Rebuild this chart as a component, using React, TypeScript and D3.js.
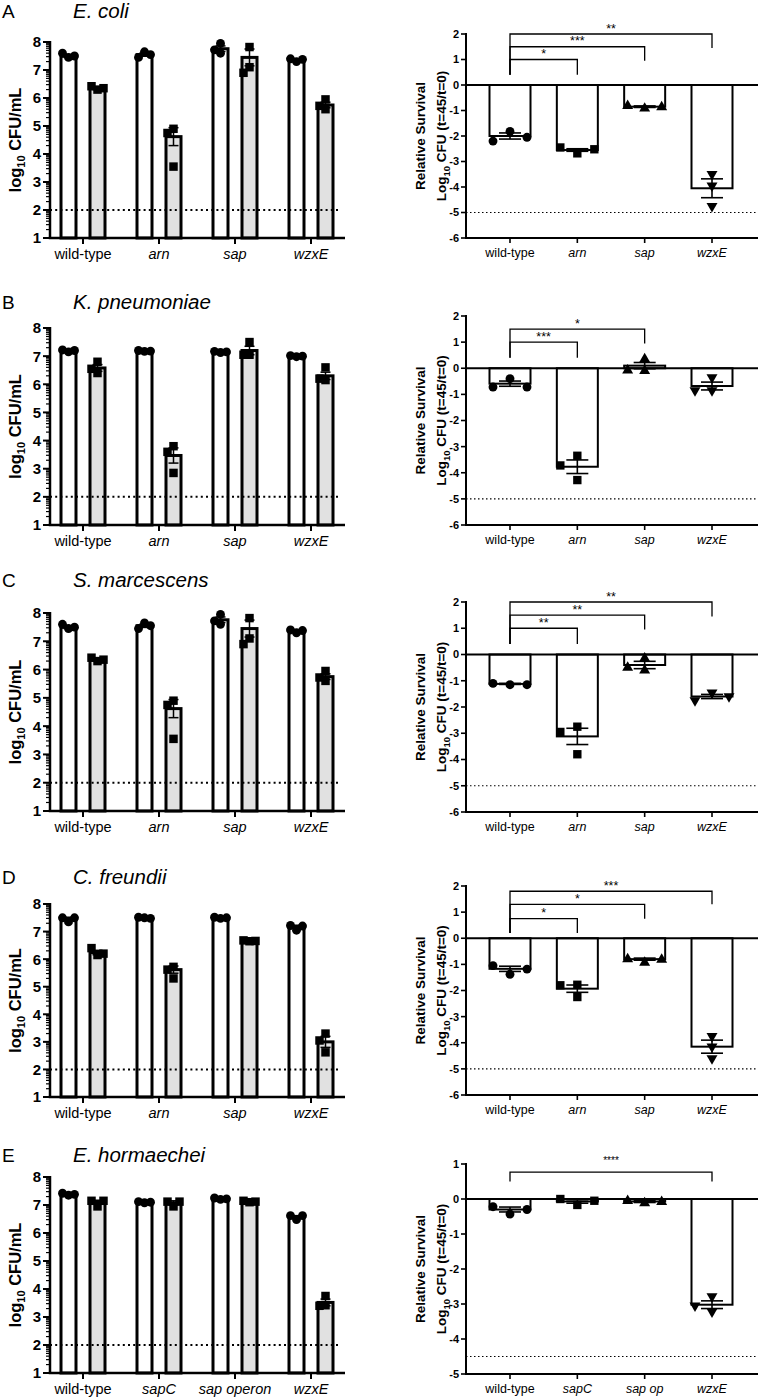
import React from "react";
import * as d3 from "d3";

const FONT = "'Liberation Sans', Arial, Helvetica, sans-serif";

// ---------- labels ----------
const panelLetters = ["A", "B", "C", "D", "E"];
const speciesNames = ["E. coli", "K. pneumoniae", "S. marcescens", "C. freundii", "E. hormaechei"];
const genotypes = ["wild-type", "arn", "sap", "wzxE"];
const genotypesLeftE = ["wild-type", "sapC", "sap operon", "wzxE"];
const genotypesRightE = ["wild-type", "sapC", "sap op", "wzxE"];
const italicGenotype = [false, true, true, true];
const leftTicks = [1, 2, 3, 4, 5, 6, 7, 8];

// ---------- left panels: log10 CFU/mL, t=0 (white) and t=45 (grey) ----------
const aT0Mean = [7.5, 7.55, 7.76, 7.37];
const aT0Sem = [0.05, 0.06, 0.1, 0.03];
const aT0Pts = [[7.45, 7.6, 7.5], [7.65, 7.45, 7.55], [7.95, 7.6, 7.72], [7.3, 7.4, 7.38]];
const aT45Mean = [6.35, 4.62, 7.45, 5.75];
const aT45Sem = [0.05, 0.32, 0.3, 0.1];
const aT45Pts = [[6.3, 6.42, 6.35], [4.9, 4.75, 3.55], [7.82, 7.1, 6.9], [5.95, 5.6, 5.72]];

const bT0Mean = [7.19, 7.18, 7.15, 7.0];
const bT0Sem = [0.02, 0.02, 0.02, 0.02];
const bT0Pts = [[7.15, 7.22, 7.2], [7.17, 7.2, 7.18], [7.13, 7.17, 7.15], [6.98, 7.02, 7.0]];
const bT45Mean = [6.58, 3.47, 7.2, 6.3];
const bT45Sem = [0.12, 0.27, 0.15, 0.13];
const bT45Pts = [[6.8, 6.4, 6.55], [3.8, 3.6, 2.85], [7.5, 7.05, 7.05], [6.6, 6.15, 6.2]];

const cT0Mean = [7.5, 7.55, 7.76, 7.37];
const cT0Sem = [0.05, 0.06, 0.1, 0.03];
const cT0Pts = [[7.45, 7.6, 7.5], [7.65, 7.45, 7.55], [7.95, 7.6, 7.72], [7.3, 7.4, 7.38]];
const cT45Mean = [6.35, 4.62, 7.45, 5.75];
const cT45Sem = [0.05, 0.32, 0.3, 0.1];
const cT45Pts = [[6.3, 6.42, 6.35], [4.9, 4.75, 3.55], [7.82, 7.1, 6.9], [5.95, 5.6, 5.72]];

const dT0Mean = [7.47, 7.5, 7.5, 7.18];
const dT0Sem = [0.05, 0.02, 0.02, 0.05];
const dT0Pts = [[7.35, 7.5, 7.5], [7.5, 7.52, 7.48], [7.48, 7.52, 7.5], [7.05, 7.22, 7.2]];
const dT45Mean = [6.24, 5.62, 6.66, 3.0];
const dT45Sem = [0.08, 0.13, 0.02, 0.2];
const dT45Pts = [[6.15, 6.4, 6.2], [5.72, 5.3, 5.62], [6.65, 6.68, 6.66], [3.3, 2.62, 3.05]];

const eT0Mean = [7.38, 7.1, 7.22, 6.58];
const eT0Sem = [0.03, 0.02, 0.02, 0.04];
const eT0Pts = [[7.35, 7.42, 7.38], [7.08, 7.12, 7.1], [7.2, 7.25, 7.22], [6.48, 6.62, 6.62]];
const eT45Mean = [7.1, 7.08, 7.12, 3.52];
const eT45Sem = [0.07, 0.07, 0.03, 0.12];
const eT45Pts = [[6.95, 7.15, 7.15], [6.95, 7.12, 7.12], [7.1, 7.15, 7.12], [3.75, 3.42, 3.4]];

// ---------- right panels: relative survival ----------
const aRelMean = [-2.0, -2.55, -0.85, -4.05];
const aRelSem = [0.12, 0.05, 0.03, 0.37];
const aRelPts = [[-1.82, -2.2, -2.05], [-2.68, -2.45, -2.52], [-0.92, -0.82, -0.87], [-3.5, -3.95, -4.75]];
const bRelMean = [-0.59, -3.77, 0.1, -0.68];
const bRelSem = [0.1, 0.26, 0.12, 0.15];
const bRelPts = [[-0.4, -0.72, -0.72], [-3.35, -3.72, -4.28], [0.35, -0.1, -0.08], [-0.35, -0.85, -0.85]];
const cRelMean = [-1.12, -3.12, -0.4, -1.6];
const cRelSem = [0.02, 0.31, 0.14, 0.08];
const cRelPts = [[-1.15, -1.1, -1.15], [-2.75, -2.95, -3.8], [-0.15, -0.6, -0.5], [-1.45, -1.75, -1.6]];
const dRelMean = [-1.17, -1.93, -0.8, -4.15];
const dRelSem = [0.1, 0.14, 0.04, 0.25];
const dRelPts = [[-1.38, -1.05, -1.18], [-1.78, -2.25, -1.8], [-0.93, -0.8, -0.82], [-3.75, -4.15, -4.6]];
const eRelMean = [-0.3, -0.07, -0.07, -3.02];
const eRelSem = [0.07, 0.05, 0.03, 0.11];
const eRelPts = [[-0.43, -0.22, -0.3], [-0.17, 0.0, -0.05], [-0.12, -0.05, -0.08], [-2.78, -3.22, -3.05]];

const relDomains = [[-6, 2], [-6, 2], [-6, 2], [-6, 2], [-5, 1]];
const relDetectionLimit = [-5, -5, -5, -5, -4.5];
const leftDetectionLimit = 2;

// significance brackets: [target index, bracket level, right end, stars]
const aSig = [[1, 1.0, 0.4, "*"], [2, 1.5, 0.95, "***"], [3, 2.0, 1.45, "**"]];
const bSig = [[1, 1.0, 0.4, "***"], [2, 1.5, 0.95, "*"]];
const cSig = [[1, 1.0, 0.4, "**"], [2, 1.5, 0.95, "**"], [3, 2.0, 1.45, "**"]];
const dSig = [[1, 0.75, 0.2, "*"], [2, 1.3, 0.75, "*"], [3, 1.8, 1.3, "***"]];
const eSig = [[3, 0.77, 0.5, "****"]];
const sigStemBottom = [0.4, 0.4, 0.4, 0.2, 0.5];

const leftData = [
  { t0m: aT0Mean, t0s: aT0Sem, t0p: aT0Pts, t45m: aT45Mean, t45s: aT45Sem, t45p: aT45Pts },
  { t0m: bT0Mean, t0s: bT0Sem, t0p: bT0Pts, t45m: bT45Mean, t45s: bT45Sem, t45p: bT45Pts },
  { t0m: cT0Mean, t0s: cT0Sem, t0p: cT0Pts, t45m: cT45Mean, t45s: cT45Sem, t45p: cT45Pts },
  { t0m: dT0Mean, t0s: dT0Sem, t0p: dT0Pts, t45m: dT45Mean, t45s: dT45Sem, t45p: dT45Pts },
  { t0m: eT0Mean, t0s: eT0Sem, t0p: eT0Pts, t45m: eT45Mean, t45s: eT45Sem, t45p: eT45Pts },
];
const rightData = [
  { m: aRelMean, s: aRelSem, p: aRelPts, sig: aSig },
  { m: bRelMean, s: bRelSem, p: bRelPts, sig: bSig },
  { m: cRelMean, s: cRelSem, p: cRelPts, sig: cSig },
  { m: dRelMean, s: dRelSem, p: dRelPts, sig: dSig },
  { m: eRelMean, s: eRelSem, p: eRelPts, sig: eSig },
];

// ---------- layout (pixel positions) ----------
const leftLayout = [
  { title: 18, top: 42, bottom: 238 },
  { title: 309, top: 328, bottom: 525 },
  { title: 587, top: 613, bottom: 811 },
  { title: 884, top: 904, bottom: 1097 },
  { title: 1162, top: 1177, bottom: 1373 },
];
const rightLayout = [
  { top: 34, bottom: 238 },
  { top: 316, bottom: 525 },
  { top: 602, bottom: 812 },
  { top: 886, bottom: 1095 },
  { top: 1164, bottom: 1374 },
];

const GREY = "#e1e1e1";

function spread(ys: number[], step: number, thrY: number): number[] {
  const placed: { x: number; y: number }[] = [];
  const cands = [0, -step, step, -2 * step, 2 * step];
  return ys.map((py) => {
    for (const c of cands) {
      if (placed.every((p) => Math.abs(p.x - c) >= step * 0.9 || Math.abs(p.y - py) >= thrY)) {
        placed.push({ x: c, y: py });
        return c;
      }
    }
    placed.push({ x: 0, y: py });
    return 0;
  });
}

const symCircle = d3.symbol().type(d3.symbolCircle);
const symSquare = d3.symbol().type(d3.symbolSquare);
const symTri = d3.symbol().type(d3.symbolTriangle);

function ErrorBar({ cx, y, mean, sem, cap, sw }: any) {
  const y1 = y(mean - sem);
  const y2 = y(mean + sem);
  return (
    <g stroke="#000" strokeWidth={sw} fill="none">
      <line x1={cx} x2={cx} y1={y1} y2={y2} />
      <line x1={cx - cap / 2} x2={cx + cap / 2} y1={y1} y2={y1} />
      <line x1={cx - cap / 2} x2={cx + cap / 2} y1={y2} y2={y2} />
    </g>
  );
}

function LeftPanel({ idx }: { idx: number }) {
  const L = leftLayout[idx];
  const D = leftData[idx];
  const cats = idx === 4 ? genotypesLeftE : genotypes;
  const x = d3.scalePoint<string>().domain(cats).range([83, 311]);
  const y = d3.scaleLinear().domain([1, 8]).range([L.bottom, L.top]);
  const axisX = 50;
  const axisEnd = 345;
  const off = 14.5;
  const barW = 15;
  const minor: number[] = [];
  for (let n = 1; n < 8; n++) for (let k = 2; k <= 9; k++) minor.push(n + Math.log10(k));
  const midY = (L.top + L.bottom) / 2;

  const groups = [
    { m: D.t0m, s: D.t0s, p: D.t0p, dx: -off, fill: "#fff", sym: symCircle.size(62) },
    { m: D.t45m, s: D.t45s, p: D.t45p, dx: off, fill: GREY, sym: symSquare.size(72) },
  ];

  return (
    <g fontFamily={FONT}>
      <text x={2} y={L.title} fontSize={19}>{panelLetters[idx]}</text>
      <text x={73} y={L.title} fontSize={20.5} fontStyle="italic">{speciesNames[idx]}</text>
      {/* y label */}
      <text transform={`translate(21,${midY}) rotate(-90)`} textAnchor="middle" fontSize={16.5} fontWeight="bold">
        <tspan>log</tspan>
        <tspan fontSize={11} dy={4}>10</tspan>
        <tspan dy={-4}> CFU/mL</tspan>
      </text>
      {/* bars */}
      {cats.map((c, i) =>
        groups.map((g, gi) => {
          const cx = (x(c) as number) + g.dx;
          return (
            <rect key={`b${i}${gi}`} x={cx - barW / 2} width={barW} y={y(g.m[i])} height={y(1) - y(g.m[i])}
              fill={g.fill} stroke="#000" strokeWidth={3} />
          );
        })
      )}
      {/* detection limit */}
      <line x1={axisX} x2={340} y1={y(leftDetectionLimit)} y2={y(leftDetectionLimit)} stroke="#000" strokeWidth={2} strokeDasharray="2,3.2" />
      {/* error bars */}
      {cats.map((c, i) =>
        groups.map((g, gi) => (
          <ErrorBar key={`e${i}${gi}`} cx={(x(c) as number) + g.dx} y={y} mean={g.m[i]} sem={g.s[i]} cap={10} sw={1.5} />
        ))
      )}
      {/* points */}
      {cats.map((c, i) =>
        groups.map((g, gi) => {
          const ys = g.p[i].map((v) => y(v));
          const dxs = spread(ys, 6, 8);
          return g.p[i].map((v, k) => (
            <path key={`p${i}${gi}${k}`} d={g.sym() as string}
              transform={`translate(${(x(c) as number) + g.dx + dxs[k]},${y(v)})`} fill="#000" />
          ));
        })
      )}
      {/* axes */}
      <g stroke="#000">
        <line x1={axisX} x2={axisX} y1={L.top - 1} y2={L.bottom} strokeWidth={2.5} />
        <line x1={axisX - 1.25} x2={axisEnd} y1={L.bottom} y2={L.bottom} strokeWidth={2.5} />
        {leftTicks.map((t) => (
          <line key={`t${t}`} x1={axisX - 7} x2={axisX} y1={y(t)} y2={y(t)} strokeWidth={2} />
        ))}
        {minor.map((t, k) => (
          <line key={`m${k}`} x1={axisX - 4} x2={axisX} y1={y(t)} y2={y(t)} strokeWidth={1.2} />
        ))}
        {cats.map((c) => (
          <line key={`xt${c}`} x1={x(c)} x2={x(c)} y1={L.bottom} y2={L.bottom + 6} strokeWidth={2} />
        ))}
      </g>
      {leftTicks.map((t) => (
        <text key={`tl${t}`} x={axisX - 9} y={y(t)} dy="0.36em" textAnchor="end" fontSize={15} fontWeight="bold">{t}</text>
      ))}
      {cats.map((c, i) => (
        <text key={`xl${c}`} x={x(c)} y={L.bottom + 21} textAnchor="middle" fontSize={14.5}
          fontStyle={italicGenotype[i] ? "italic" : "normal"}>{c}</text>
      ))}
    </g>
  );
}

function RightPanel({ idx }: { idx: number }) {
  const L = rightLayout[idx];
  const D = rightData[idx];
  const cats = idx === 4 ? genotypesRightE : genotypes;
  const x = d3.scalePoint<string>().domain(cats).range([510, 712]);
  const dom = relDomains[idx];
  const y = d3.scaleLinear().domain(dom).range([L.bottom, L.top]);
  const ticks = d3.range(dom[0], dom[1] + 1);
  const axisX = 466;
  const axisEnd = 758;
  const barW = 41;
  const midY = (L.top + L.bottom) / 2;
  const syms = [
    symCircle.size(62)(),
    symSquare.size(70)(),
    symTri.size(52)(),
    symTri.size(52)(),
  ];
  const x0 = x(cats[0]) as number;
  const stem = sigStemBottom[idx];

  return (
    <g fontFamily={FONT}>
      <text transform={`translate(425,${midY}) rotate(-90)`} textAnchor="middle" fontSize={13.5} fontWeight="bold">Relative Survival</text>
      <text transform={`translate(446,${midY}) rotate(-90)`} textAnchor="middle" fontSize={13.5} fontWeight="bold">
        <tspan>Log</tspan>
        <tspan fontSize={9.5} dy={3.5}>10</tspan>
        <tspan dy={-3.5}> CFU (t=45/t=0)</tspan>
      </text>
      {/* bars */}
      {cats.map((c, i) => {
        const cx = x(c) as number;
        const m = D.m[i];
        return (
          <rect key={`b${i}`} x={cx - barW / 2} width={barW} y={Math.min(y(0), y(m))} height={Math.abs(y(m) - y(0))}
            fill="#fff" stroke="#000" strokeWidth={2} />
        );
      })}
      {/* detection limit */}
      <line x1={axisX} x2={axisEnd} y1={y(relDetectionLimit[idx])} y2={y(relDetectionLimit[idx])} stroke="#000" strokeWidth={1.1} strokeDasharray="1.5,2.5" />
      {/* zero line */}
      <line x1={axisX} x2={axisEnd} y1={y(0)} y2={y(0)} stroke="#000" strokeWidth={2} />
      {/* error bars */}
      {cats.map((c, i) => (
        <ErrorBar key={`e${i}`} cx={x(c) as number} y={y} mean={D.m[i]} sem={D.s[i]} cap={22} sw={1.6} />
      ))}
      {/* points */}
      {cats.map((c, i) => {
        const ys = D.p[i].map((v) => y(v));
        const dxs = spread(ys, 17, 10);
        return D.p[i].map((v, k) => (
          <path key={`p${i}${k}`} d={syms[i] as string}
            transform={`translate(${(x(c) as number) + dxs[k]},${y(v)})${i === 3 ? " rotate(180)" : ""}`} fill="#000" />
        ));
      })}
      {/* significance */}
      {D.sig.map((s: any, k: number) => {
        const xt = x(cats[s[0]]) as number;
        return (
          <g key={`s${k}`}>
            <path d={`M${x0},${y(stem)}V${y(s[1])}H${xt}V${y(s[2])}`} fill="none" stroke="#000" strokeWidth={1.3} />
            <text x={(x0 + xt) / 2} y={y(s[1]) - (idx === 4 ? 8 : 1.5)} textAnchor="middle" fontSize={idx === 4 ? 10 : 12.5}>{s[3]}</text>
          </g>
        );
      })}
      {/* axes */}
      <g stroke="#000">
        <line x1={axisX} x2={axisX} y1={L.top - 1} y2={L.bottom} strokeWidth={2} />
        <line x1={axisX - 1} x2={axisEnd} y1={L.bottom} y2={L.bottom} strokeWidth={2} />
        {ticks.map((t) => (
          <line key={`t${t}`} x1={axisX - 5} x2={axisX} y1={y(t)} y2={y(t)} strokeWidth={1.6} />
        ))}
        {cats.map((c) => (
          <line key={`xt${c}`} x1={x(c)} x2={x(c)} y1={L.bottom} y2={L.bottom + 5} strokeWidth={1.6} />
        ))}
      </g>
      {ticks.map((t) => (
        <text key={`tl${t}`} x={axisX - 7} y={y(t)} dy="0.36em" textAnchor="end" fontSize={11} fontWeight="bold">{String(t)}</text>
      ))}
      {cats.map((c, i) => (
        <text key={`xl${c}`} x={x(c)} y={L.bottom + 19} textAnchor="middle" fontSize={12.5}
          fontStyle={italicGenotype[i] ? "italic" : "normal"}>{c}</text>
      ))}
    </g>
  );
}

export default function App() {
  return (
    <svg width={758} height={1400} viewBox="0 0 758 1400"
      style={{ position: "absolute", left: 0, top: 0, background: "#fff" }}>
      <rect width={758} height={1400} fill="#fff" />
      {panelLetters.map((_, i) => (
        <g key={i}>
          <LeftPanel idx={i} />
          <RightPanel idx={i} />
        </g>
      ))}
    </svg>
  );
}
